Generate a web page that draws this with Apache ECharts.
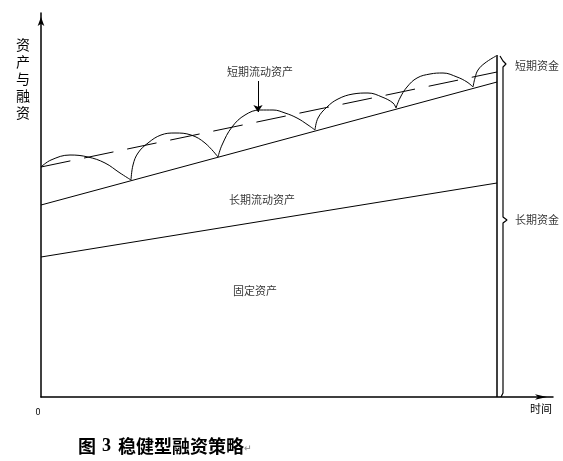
<!DOCTYPE html>
<html lang="zh">
<head>
    <meta charset="UTF-8">
    <title>稳健型融资策略</title>
    <script src="https://cdn.jsdelivr.net/npm/echarts@6/dist/echarts.min.js"></script>
    <style>
        html, body { margin: 0; padding: 0; background: #fff; }
        #chart { width: 563px; height: 461px; }
    </style>
</head>
<body>
    <div id="chart"></div>
    <script>
        // 坐标单位：横轴为时间，纵轴为资产与融资
        const fixedLine = [[0, 140], [456, 214]];      // 固定资产上沿
        const permLine = [[0, 192], [456, 315]];       // 长期流动资产上沿
        const fundLine = [[0, 230], [456, 325]];       // 长期资金（虚线）
        const endLine = [[456, 0], [456, 342]];        // 右侧竖线
        const brace = [[459, 341], [461, 339], [462, 336], [465, 333], [462, 330], [462, 326],
                       [462, 180], [466, 177], [462, 174], [462, 4], [460, 0]];

        // 短期流动资产波动曲线
        const arc1 = [[0, 230], [10, 237], [29, 242], [47, 240], [64, 234], [79, 224], [90, 217]];
        const arc2 = [[90, 217], [92, 232], [97, 244], [107, 254], [120, 262], [134, 264], [150, 262], [164, 254], [177, 240]];
        const arc3 = [[177, 240], [181, 252], [191, 270], [204, 282], [219, 287], [232, 287], [244, 284], [256, 279], [267, 272], [274, 267]];
        const arc4 = [[274, 267], [277, 279], [286, 290], [297, 298], [312, 303], [327, 304], [341, 300], [352, 294], [355, 289]];
        const arc5 = [[355, 289], [359, 299], [366, 310], [376, 319], [389, 323], [402, 324], [416, 320], [426, 315], [432, 310]];
        const arc6 = [[432, 310], [434, 319], [437, 327], [444, 334], [455, 341]];

        const arrowLine = [[217, 316], [217, 285]];

        const midLabels = ['短期流动资产', '长期流动资产', '固定资产'];
        const midLabelPos = [[219, 325], [221, 197], [214, 106]];
        const sideLabels = ['短期资金', '长期资金'];
        const sideLabelPos = [[474, 331], [474, 177]];

        const font = '"Noto Sans CJK SC", sans-serif';
        const chart = echarts.init(document.getElementById('chart'));

        function plain(data, extra) {
            return Object.assign({
                type: 'line',
                data: data,
                symbol: 'none',
                silent: true,
                lineStyle: { color: '#000', width: 1 }
            }, extra || {});
        }

        const arcSeries = [arc1, arc2, arc3, arc4, arc5, arc6].map(a => plain(a, { smooth: 0.4 }));

        const option = {
            animation: false,
            backgroundColor: '#fff',
            title: {
                left: 78,
                top: 437,
                padding: 0,
                text: '{a|图}{b|3}{d|稳健型融资策略}{c|↵}',
                textStyle: {
                    rich: {
                        a: { fontFamily: font, fontWeight: 'bold', fontSize: 18, color: '#000', padding: [0, 6, 0, 0] },
                        b: { fontFamily: '"Liberation Serif", serif', fontWeight: 'bold', fontSize: 18, color: '#000', padding: [0, 7, 0, 0] },
                        d: { fontFamily: font, fontWeight: 'bold', fontSize: 18, color: '#000' },
                        c: { fontFamily: '"DejaVu Sans", sans-serif', fontSize: 9, color: '#999', padding: [6, 0, 0, 0] }
                    }
                }
            },
            grid: { left: 41, top: 13, width: 512, height: 384 },
            xAxis: {
                type: 'value',
                min: 0,
                max: 512,
                interval: 512,
                axisLine: {
                    lineStyle: { color: '#000', width: 1.5 },
                    symbol: ['none', 'arrow'],
                    symbolSize: [4, 12],
                    symbolOffset: [0, -6]
                },
                axisTick: { show: false },
                splitLine: { show: false },
                axisLabel: {
                    margin: 10,
                    fontSize: 9,
                    fontFamily: font,
                    color: '#000',
                    padding: [0, 6, 0, 0],
                    formatter: v => (v === 0 ? '0' : '')
                }
            },
            yAxis: {
                type: 'value',
                min: 0,
                max: 384,
                axisLine: {
                    show: true,
                    lineStyle: { color: '#000', width: 1.5 },
                    symbol: ['none', 'arrow'],
                    symbolSize: [5, 9],
                    symbolOffset: [0, -4]
                },
                axisTick: { show: false },
                splitLine: { show: false },
                axisLabel: { show: false }
            },
            graphic: [
                {
                    type: 'text',
                    left: 16,
                    top: 36,
                    style: {
                        text: '资\n产\n与\n融\n资',
                        font: '14px ' + font,
                        lineHeight: 17,
                        fill: '#000'
                    }
                },
                {
                    type: 'text',
                    left: 530,
                    top: 403,
                    style: { text: '时间', font: '11px ' + font, fill: '#000' }
                }
            ],
            series: [
                plain(fixedLine),
                plain(permLine),
                plain(fundLine, { lineStyle: { color: '#000', width: 1, type: [30, 14] } }),
                plain(endLine, { lineStyle: { color: '#000', width: 1.5 } }),
                plain(brace, { lineStyle: { color: '#000', width: 1.2 } }),
                ...arcSeries,
                {
                    type: 'scatter',
                    silent: true,
                    symbolSize: 0,
                    data: midLabelPos.map((p, i) => ({ value: p, name: midLabels[i] })),
                    label: {
                        show: true,
                        position: 'inside',
                        formatter: p => p.name,
                        fontFamily: font,
                        fontSize: 11,
                        color: '#000'
                    },
                    markLine: {
                        silent: true,
                        symbol: ['none', 'arrow'],
                        symbolSize: 7,
                        label: { show: false },
                        lineStyle: { color: '#000', width: 1, type: 'solid' },
                        data: [[{ coord: arrowLine[0] }, { coord: arrowLine[1] }]]
                    }
                },
                {
                    type: 'scatter',
                    silent: true,
                    symbolSize: 0,
                    data: sideLabelPos.map((p, i) => ({ value: p, name: sideLabels[i] })),
                    label: {
                        show: true,
                        position: 'inside',
                        align: 'left',
                        formatter: p => p.name,
                        fontFamily: font,
                        fontSize: 11,
                        color: '#000'
                    }
                }
            ]
        };

        chart.setOption(option);
    </script>
</body>
</html>
